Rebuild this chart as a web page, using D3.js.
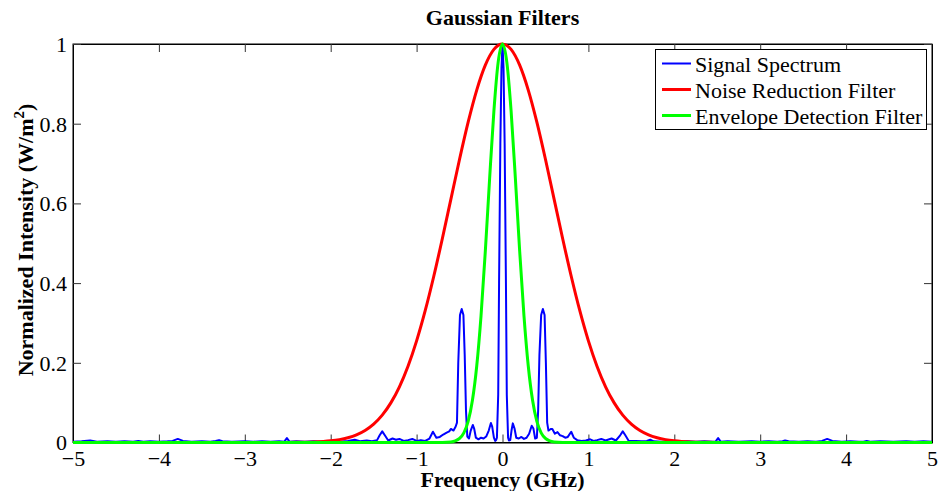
<!DOCTYPE html>
<html><head><meta charset="utf-8">
<script src="https://cdn.jsdelivr.net/npm/d3@7"></script>
<style>body{margin:0;background:#fff}svg{display:block}text{font-family:"Liberation Serif","Times New Roman",serif}</style>
</head><body><svg id="c" width="939" height="491"></svg>
<script>
const title = "Gaussian Filters";
const xLabel = "Frequency (GHz)";
const seriesNames = ["Signal Spectrum","Noise Reduction Filter","Envelope Detection Filter"];
const seriesColors = ["#0000ff","#ff0000","#00ff00"];
const xTicks = [-5,-4,-3,-2,-1,0,1,2,3,4,5];
const yTicks = [0,0.2,0.4,0.6,0.8,1];

// Signal spectrum (frequency GHz, normalized intensity)
const signalF = [-5.00,-4.90,-4.80,-4.72,-4.60,-4.50,-4.40,-4.30,-4.24,-4.18,-4.10,-4.00,-3.90,-3.84,-3.78,-3.72,-3.62,-3.50,-3.40,-3.34,-3.30,-3.26,-3.15,-3.00,-2.90,-2.80,-2.70,-2.60,-2.54,-2.51,-2.48,-2.40,-2.30,-2.20,-2.10,-2.00,-1.90,-1.80,-1.72,-1.66,-1.58,-1.52,-1.46,-1.43,-1.40,-1.37,-1.33,-1.28,-1.24,-1.20,-1.15,-1.10,-1.05,-1.00,-0.95,-0.90,-0.85,-0.81,-0.77,-0.73,-0.69,-0.65,-0.62,-0.60,-0.57,-0.545,-0.53,-0.515,-0.495,-0.475,-0.455,-0.44,-0.425,-0.41,-0.39,-0.37,-0.345,-0.33,-0.31,-0.28,-0.25,-0.22,-0.19,-0.16,-0.135,-0.12,-0.10,-0.085,-0.075,-0.065,-0.05,-0.04,-0.025,-0.012,0,0.012,0.025,0.04,0.05,0.065,0.075,0.09,0.105,0.12,0.14,0.16,0.19,0.22,0.25,0.28,0.31,0.34,0.36,0.38,0.40,0.415,0.43,0.45,0.47,0.49,0.505,0.52,0.535,0.55,0.565,0.58,0.61,0.64,0.67,0.70,0.73,0.76,0.80,0.83,0.87,0.92,0.97,1.02,1.06,1.10,1.15,1.20,1.27,1.32,1.37,1.40,1.43,1.47,1.55,1.62,1.68,1.72,1.76,1.85,1.95,2.05,2.15,2.25,2.35,2.45,2.48,2.51,2.54,2.62,2.75,2.90,3.00,3.10,3.20,3.26,3.29,3.33,3.45,3.55,3.65,3.72,3.78,3.84,3.95,4.05,4.15,4.20,4.24,4.28,4.40,4.55,4.70,4.80,4.90,5.00];
const signalV = [0.002,0.003,0.005,0.002,0.003,0.002,0.003,0.002,0.004,0.002,0.003,0.002,0.003,0.004,0.009,0.004,0.002,0.003,0.002,0.004,0.006,0.003,0.002,0.003,0.002,0.003,0.002,0.003,0.002,0.011,0.002,0.003,0.002,0.003,0.002,0.003,0.002,0.004,0.007,0.003,0.005,0.003,0.006,0.018,0.028,0.018,0.005,0.010,0.007,0.009,0.004,0.006,0.009,0.004,0.006,0.004,0.010,0.027,0.012,0.014,0.020,0.025,0.028,0.034,0.030,0.040,0.050,0.200,0.320,0.335,0.320,0.220,0.080,0.015,0.010,0.030,0.044,0.035,0.012,0.008,0.012,0.010,0.015,0.030,0.049,0.040,0.012,0.004,0.006,0.012,0.120,0.400,0.750,0.940,1.000,0.940,0.750,0.400,0.120,0.012,0.005,0.006,0.030,0.048,0.035,0.012,0.010,0.014,0.009,0.012,0.022,0.042,0.035,0.010,0.012,0.080,0.220,0.320,0.335,0.320,0.200,0.050,0.030,0.032,0.034,0.034,0.022,0.026,0.018,0.016,0.012,0.014,0.027,0.012,0.006,0.004,0.005,0.008,0.004,0.006,0.009,0.005,0.010,0.005,0.018,0.028,0.018,0.004,0.004,0.003,0.004,0.007,0.003,0.002,0.003,0.002,0.003,0.002,0.003,0.002,0.002,0.011,0.002,0.003,0.002,0.003,0.002,0.003,0.002,0.003,0.005,0.003,0.002,0.003,0.002,0.004,0.009,0.004,0.002,0.003,0.002,0.002,0.004,0.002,0.003,0.002,0.003,0.002,0.003,0.002,0.002];

// Noise reduction filter
const noiseF = [-5,-3,-2.6,-2.4,-2.2,-2.0,-1.9,-1.8,-1.7,-1.6,-1.5,-1.4,-1.3,-1.2,-1.1,-1.0,-0.9,-0.8,-0.7,-0.6,-0.5,-0.4,-0.3,-0.2,-0.1,0,0.1,0.2,0.3,0.4,0.5,0.6,0.7,0.8,0.9,1.0,1.1,1.2,1.3,1.4,1.5,1.6,1.7,1.8,1.9,2.0,2.2,2.4,2.6,3,5];
const noiseV = [0,0,0.0001,0.0004,0.0013,0.0042,0.0072,0.0120,0.0193,0.0303,0.0462,0.0687,0.0994,0.1398,0.1915,0.2551,0.3307,0.4172,0.5120,0.6115,0.7107,0.8037,0.8843,0.9468,0.9864,1,0.9864,0.9468,0.8843,0.8037,0.7107,0.6115,0.5120,0.4172,0.3307,0.2551,0.1915,0.1398,0.0994,0.0687,0.0462,0.0303,0.0193,0.0120,0.0072,0.0042,0.0013,0.0004,0.0001,0,0];

// Envelope detection filter
const envF = [-5,-0.8,-0.7,-0.6,-0.55,-0.5,-0.45,-0.4,-0.35,-0.3,-0.25,-0.2,-0.15,-0.1,-0.05,0,0.05,0.1,0.15,0.2,0.25,0.3,0.35,0.4,0.45,0.5,0.55,0.6,0.7,0.8,5];
const envV = [0,0,0.0001,0.0014,0.0039,0.0102,0.0243,0.053,0.106,0.192,0.318,0.480,0.662,0.832,0.955,1,0.955,0.832,0.662,0.480,0.318,0.192,0.106,0.053,0.0243,0.0102,0.0039,0.0014,0.0001,0,0];

const svg = d3.select("#c");
const L = 73, R = 932, T = 44, B = 442.5;
const x = d3.scaleLinear().domain([-5,5]).range([L,R]);
const y = d3.scaleLinear().domain([0,1]).range([B,T]);
const FS = 22;

svg.append("rect").attr("x",L).attr("y",T).attr("width",R-L).attr("height",B-T)
  .attr("fill","none").attr("stroke","#000").attr("stroke-width",1);

const fmtX = d => d < 0 ? "\u2212" + Math.abs(d) : String(d);
const fmtY = d => String(d);

const gB = svg.append("g").attr("transform",`translate(0,${B})`)
  .call(d3.axisBottom(x).tickValues(xTicks).tickSize(-8).tickPadding(10).tickFormat(fmtX));
const gT = svg.append("g").attr("transform",`translate(0,${T})`)
  .call(d3.axisTop(x).tickValues(xTicks).tickSize(-8).tickFormat(""));
const gL = svg.append("g").attr("transform",`translate(${L},0)`)
  .call(d3.axisLeft(y).tickValues(yTicks).tickSize(-8).tickPadding(6).tickFormat(fmtY));
const gR = svg.append("g").attr("transform",`translate(${R},0)`)
  .call(d3.axisRight(y).tickValues(yTicks).tickSize(-8).tickFormat(""));
[gB,gT,gL,gR].forEach(g=>{
  g.attr("font-family","Liberation Serif").attr("font-size",FS);
  g.select(".domain").attr("stroke","#000");
  g.selectAll(".tick line").attr("stroke","#333");
  g.selectAll("text").attr("fill","#000");
});
gB.selectAll(".tick text").attr("dy","0.62em");
gL.selectAll(".tick text").attr("dy","0.34em");

const line = d3.line().x(d=>x(d[0])).y(d=>y(d[1]));
const curve = d3.line().x(d=>x(d[0])).y(d=>y(d[1])).curve(d3.curveMonotoneX);
const sig = signalF.map((f,i)=>[f,signalV[i]]);
const noi = noiseF.map((f,i)=>[f,noiseV[i]]);
const env = envF.map((f,i)=>[f,envV[i]]);
svg.append("path").datum(sig).attr("d",line).attr("fill","none").attr("stroke",seriesColors[0]).attr("stroke-width",2).attr("stroke-linejoin","round");
svg.append("path").datum(noi).attr("d",curve).attr("fill","none").attr("stroke",seriesColors[1]).attr("stroke-width",3);
svg.append("path").datum(env).attr("d",curve).attr("fill","none").attr("stroke",seriesColors[2]).attr("stroke-width",3);

svg.append("text").attr("x",(L+R)/2).attr("y",25).attr("text-anchor","middle")
  .attr("font-size",FS).attr("font-weight","bold").text(title);
svg.append("text").attr("x",(L+R)/2).attr("y",487).attr("text-anchor","middle")
  .attr("font-size",FS).attr("font-weight","bold").text(xLabel);
const yl = svg.append("text").attr("transform",`translate(33,240) rotate(-90)`)
  .attr("text-anchor","middle").attr("font-size",FS).attr("font-weight","bold");
yl.append("tspan").text("Normalized Intensity (W/m");
yl.append("tspan").attr("font-size",15).attr("dy",-9).text("2");
yl.append("tspan").attr("dy",9).text(")");

const lg = svg.append("g");
lg.append("rect").attr("x",655.5).attr("y",49.5).attr("width",271).attr("height",80)
  .attr("fill","#fff").attr("stroke","#000").attr("stroke-width",1);
seriesNames.forEach((n,i)=>{
  const cy = 63.5 + i*26;
  lg.append("line").attr("x1",662).attr("x2",691).attr("y1",cy).attr("y2",cy)
    .attr("stroke",seriesColors[i]).attr("stroke-width",i===0?2:3);
  lg.append("text").attr("x",695).attr("y",cy+8.5).attr("font-size",FS).text(n);
});
</script></body></html>
